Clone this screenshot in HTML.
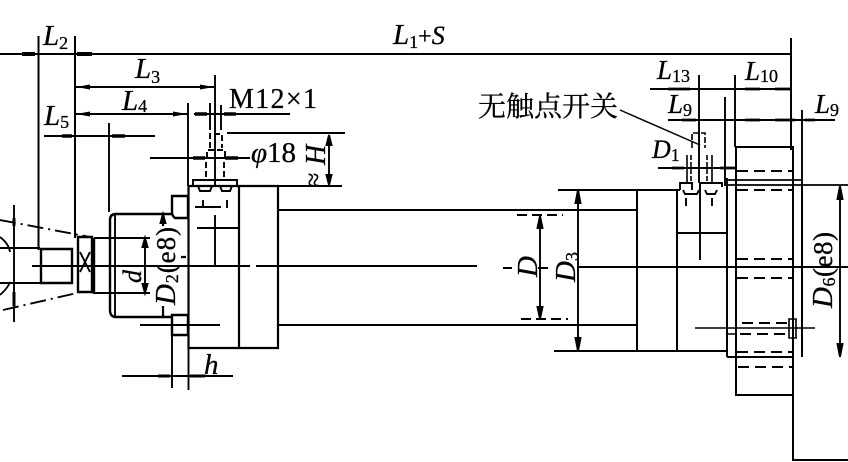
<!DOCTYPE html>
<html><head><meta charset="utf-8"><style>
html,body{margin:0;padding:0;background:#fff;overflow:hidden}
svg{display:block;filter:blur(.35px)}
text{fill:#000;stroke:#000;stroke-width:.3px;font-family:"Liberation Serif","Noto Serif CJK SC",serif}
.i{font-style:italic}
.s{font-style:normal;font-size:18px}
</style></head><body>
<svg width="848" height="462" viewBox="0 0 848 462" xmlns="http://www.w3.org/2000/svg">
<defs>
<marker id="a" viewBox="0 0 14 6" refX="14" refY="3" markerWidth="14" markerHeight="6" markerUnits="userSpaceOnUse" orient="auto-start-reverse"><path d="M0 .5L14 3L0 5.500z" fill="#000"/></marker>
</defs>
<g fill="none" stroke="#000" stroke-width="1.900">
<!-- top dims -->
<path d="M0 54H791"/>
<path d="M38.500 36V250M75 36V238M791 38V150" stroke-width="2"/>
<path d="M76 87H214" marker-start="url(#a)" marker-end="url(#a)"/>
<path d="M76 114H187" marker-start="url(#a)" marker-end="url(#a)"/>
<path d="M215 75V186M188 103V186M210 103V130M221 105V130"/>
<path d="M194 114H290M44 136H155M109 123V212M150 158H250M227 133H345M226 186H342"/>
<path d="M22 54H35M77 54H92" stroke-width="4"/>
<path d="M62 136H72M112 136H125M193 158H205M225 158H238M195 114H207M224 114H236" stroke-width="3.500"/>
<path d="M329 135V185"/>
<path d="M329 135l-2.500 10h5zM329 185l-2.500-10h5z" fill="#000"/>
<!-- piston connector on top -->
<path d="M210 148V134H222V148M207 158V150H225V158M206 162V180M224 162V180" stroke-dasharray="6 3"/>
<path d="M193 186V180H237V186M198 186l2 5h10l2-5M220 186l2 5h8l2-5M203 200V208M227 200V208M195 207H221"/>
<path d="M197 228H239M215 215V266"/>
<!-- left cap -->
<path d="M188.500 186V348H278V186H188ZM239 186V348" stroke-width="2.200"/>
<path d="M172 196H188V218H175Q172 216 172 212ZM172 315H188V335H172Z" stroke-width="2.400"/>
<path d="M172 335V388M188.500 348V390M122 376H233M140 325H220M32 266H250M256 266H278"/>
<path d="M158 376H170M190 376H205" stroke-width="3"/>
<!-- rod head -->
<path d="M172 214H116Q110 214 110 220V310Q110 317 116 317H172" stroke-width="2.400"/>
<path d="M115 214V317"/>
<path d="M94 238H150M94 293H150M145 238V293"/>
<path d="M145 238l-2.500 9h5zM145 293l-2.500-9h5zM163 214l-2.500 9h5z" fill="#000"/>
<path d="M163 215V226M163 306V318M181 257H186" stroke-width="2.200"/>
<path d="M94 238V294M78 237H92V292H78Z" stroke-width="2.400"/>
<path d="M80 252L90 272M90 252L80 272"/>
<path d="M41 249H72V283H41Z" stroke-width="2.400"/>
<path d="M0 248H40M0 283H40M14 205V322"/>
<path d="M14 218V226M14 292V306" stroke-width="3"/>
<path d="M0 220L90 237M3 310L77 293" stroke-dasharray="16 5 2 5"/>
<path d="M0 237Q9 244 10 252M0 295Q8 288 10 282" stroke-width="1.800"/>
<!-- tube -->
<path d="M279 210H638M279 325H638" stroke-width="2"/>
<path d="M278 266H477M503 268H512M538 268H548"/>
<path d="M578 267H848"/>
<path d="M517 215H563M521 319H568" stroke-dasharray="10 5"/>
<path d="M540 215V319"/>
<path d="M540 216l-2.500 12h5zM540 319l-2.500-12h5z" fill="#000"/>
<path d="M558 190H638M554 351H638M578 190V351"/>
<path d="M578 190l-2.500 13h5zM578 351l-2.500-13h5z" fill="#000"/>
<!-- right cap -->
<path d="M637 190V351H727V185M677 190V351M677 233H727M637 190H680" stroke-width="2"/>
<path d="M680 190V183H692V190M700 190V183H722V187M683 190l2 4h12l2-4M705 190l2 4h8l2-4M686 198V206M712 198V206"/>
<path d="M699 75V183M700 183V260M725 97V186M735 75V147M802 110V205"/>
<path d="M650 89H791M668 120H835M658 168H735"/>
<path d="M668 89H690M745 89H760M775 89H790M682 120H696M745 120H760M775 120H795M805 120H815M672 168H684M720 168H735" stroke-width="2.800"/>
<path d="M692 148V133H705V148" stroke-width="1.600" stroke-dasharray="6 2"/>
<path d="M687 155V183M712 155V183" stroke-width="1.600"/>
<path d="M691 155V183M707 155V183" stroke-width="1.600" stroke-dasharray="5 2"/>
<path d="M620 110L700 145" stroke-width="1.500"/>
<!-- flange -->
<path d="M736 147H793V395H736Z" stroke-width="2"/>
<path d="M727 357H793M802 185V357" stroke-width="2"/>
<path d="M727 178V357"/>
<path d="M727 180H802M727 185H848" stroke-width="1.700"/>
<path d="M737 171H793M737 190H793M737 259H793M737 278H793M742 323H790M740 334H790M737 352H793M738 367H793" stroke-dasharray="11 6"/>
<path d="M695 328H815M789 319V338H796V319ZM727 323V334H735" stroke-width="1.600"/>
<path d="M793 395V460H848" stroke-width="2"/>
<path d="M840 187V357"/>
<path d="M840 186l-2.500 13h5zM840 357l-2.500-13h5z" fill="#000"/>
</g>
<g font-size="29">
<text class="i" x="43" y="45">L<tspan class="s" dy="4">2</tspan></text>
<text x="393" y="44"><tspan class="i">L</tspan><tspan class="s" dy="4">1</tspan><tspan dy="-4" font-size="24">+</tspan><tspan class="i" font-size="26">S</tspan></text>
<text class="i" x="135" y="78">L<tspan class="s" dy="5">3</tspan></text>
<text class="i" x="122" y="110">L<tspan class="s" dy="2">4</tspan></text>
<text class="i" x="44" y="125">L<tspan class="s" dy="3">5</tspan></text>
<text x="229" y="108" font-size="28" textLength="88">M12×1</text>
<text x="251" y="162" font-size="29" textLength="45"><tspan class="i">φ</tspan>18</text>
<text class="i" x="204" y="374" font-size="29">h</text>
<text x="478" y="116" font-size="28" style="font-family:'Noto Serif CJK SC',serif">无触点开关</text>
<text class="i" x="657" y="79" font-size="27">L<tspan class="s" dy="3">13</tspan></text>
<text class="i" x="745" y="80" font-size="27">L<tspan class="s" dy="2">10</tspan></text>
<text class="i" x="668" y="113" font-size="27">L<tspan class="s" dy="3">9</tspan></text>
<text class="i" x="815" y="113" font-size="27">L<tspan class="s" dy="3">9</tspan></text>
<text class="i" x="652" y="158" font-size="26">D<tspan class="s" dy="3">1</tspan></text>
<text class="i" transform="translate(141 283) rotate(-90)" font-size="26">d</text>
<text transform="translate(175 305) rotate(-90)" textLength="78"><tspan class="i">D</tspan><tspan class="s" dy="3">2</tspan><tspan dy="-3" font-size="27">(e8)</tspan></text>
<text class="i" transform="translate(537 277) rotate(-90)">D</text>
<text class="i" transform="translate(575 282) rotate(-90)">D<tspan class="s" dy="3">3</tspan></text>
<text transform="translate(832 308) rotate(-90)" textLength="76"><tspan class="i">D</tspan><tspan class="s" dy="3">6</tspan><tspan dy="-3" font-size="27">(e8)</tspan></text>
<text class="i" transform="translate(325 165) rotate(-90)" font-size="28">H</text>
<text transform="translate(322 187) rotate(-90)" font-size="26">≈</text>
</g>
</svg>
</body></html>
